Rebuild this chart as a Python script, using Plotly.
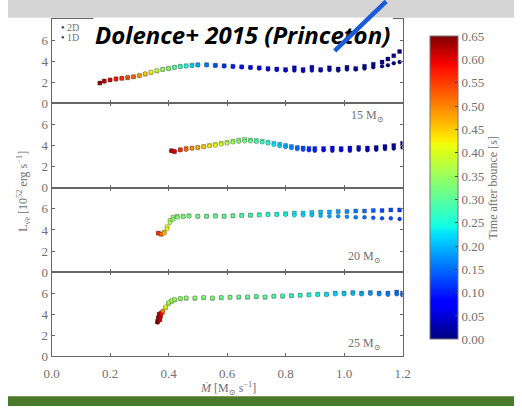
import plotly.graph_objects as go
from plotly.subplots import make_subplots

# ---- data: accretion rate (Msun/s), luminosity (1e52 erg/s), time after bounce (s)
mdot_a = [0.165, 0.18, 0.20, 0.22, 0.24, 0.26, 0.28, 0.30, 0.32, 0.34, 0.36, 0.38,
          0.40, 0.42, 0.44, 0.46, 0.48, 0.50, 0.53, 0.56, 0.59, 0.62, 0.65, 0.68,
          0.71, 0.74, 0.77, 0.80, 0.83, 0.86, 0.89, 0.92, 0.95, 0.98, 1.01, 1.04,
          1.07, 1.10, 1.13, 1.15, 1.17, 1.19]
time_a = [0.64, 0.62, 0.60, 0.58, 0.56, 0.54, 0.52, 0.48, 0.45, 0.42, 0.38, 0.35,
          0.33, 0.30, 0.27, 0.25, 0.22, 0.19, 0.16, 0.13, 0.11, 0.10, 0.09, 0.08,
          0.07, 0.065, 0.06, 0.05, 0.045, 0.04, 0.035, 0.03, 0.025, 0.02, 0.018, 0.015,
          0.012, 0.01, 0.007, 0.005, 0.003, 0.0]
lum2d_a = [1.9, 2.1, 2.2, 2.3, 2.35, 2.4, 2.5, 2.6, 2.75, 2.9, 3.05, 3.2,
           3.3, 3.4, 3.5, 3.55, 3.6, 3.65, 3.65, 3.6, 3.55, 3.5, 3.45, 3.4,
           3.35, 3.3, 3.25, 3.2, 3.35, 3.2, 3.4, 3.2, 3.35, 3.25, 3.4, 3.3,
           3.5, 3.7, 3.9, 4.2, 4.5, 4.9]
lum1d_a = [1.9, 2.05, 2.2, 2.25, 2.35, 2.45, 2.5, 2.65, 2.8, 2.95, 3.1, 3.2,
           3.3, 3.4, 3.45, 3.5, 3.55, 3.6, 3.6, 3.55, 3.5, 3.45, 3.4, 3.35,
           3.3, 3.2, 3.15, 3.1, 3.1, 3.05, 3.1, 3.1, 3.15, 3.1, 3.2, 3.2,
           3.3, 3.4, 3.5, 3.6, 3.8, 3.9]

mdot_b = [0.41, 0.42, 0.44, 0.46, 0.48, 0.50, 0.52, 0.54, 0.56, 0.58, 0.60, 0.62,
          0.64, 0.66, 0.68, 0.70, 0.72, 0.74, 0.76, 0.78, 0.80, 0.82, 0.84, 0.86,
          0.88, 0.90, 0.93, 0.96, 0.99, 1.02, 1.05, 1.08, 1.11, 1.14, 1.17, 1.20]
time_b = [0.62, 0.60, 0.56, 0.52, 0.49, 0.47, 0.45, 0.43, 0.41, 0.39, 0.37, 0.35,
          0.33, 0.32, 0.31, 0.29, 0.27, 0.25, 0.23, 0.21, 0.19, 0.17, 0.15, 0.13,
          0.11, 0.10, 0.08, 0.07, 0.06, 0.05, 0.04, 0.03, 0.02, 0.015, 0.01, 0.0]
lum2d_b = [3.5, 3.4, 3.6, 3.7, 3.75, 3.8, 3.9, 4.0, 4.1, 4.2, 4.3, 4.4,
           4.5, 4.55, 4.5, 4.45, 4.4, 4.3, 4.2, 4.1, 4.0, 3.9, 3.8, 3.75,
           3.7, 3.7, 3.7, 3.75, 3.7, 3.75, 3.8, 3.75, 3.8, 3.9, 4.0, 4.2]
lum1d_b = [3.5, 3.45, 3.55, 3.6, 3.7, 3.8, 3.85, 3.95, 4.0, 4.1, 4.2, 4.3,
           4.35, 4.4, 4.4, 4.35, 4.3, 4.2, 4.05, 3.95, 3.85, 3.75, 3.65, 3.6,
           3.55, 3.5, 3.55, 3.5, 3.55, 3.5, 3.6, 3.55, 3.6, 3.65, 3.7, 3.8]

mdot_c = [0.365, 0.375, 0.385, 0.395, 0.405, 0.415, 0.43, 0.45, 0.47, 0.50, 0.53,
          0.56, 0.59, 0.62, 0.65, 0.68, 0.71, 0.74, 0.77, 0.80, 0.83, 0.86, 0.89,
          0.92, 0.95, 0.98, 1.01, 1.04, 1.07, 1.10, 1.13, 1.16, 1.19]
time_c = [0.56, 0.52, 0.46, 0.40, 0.36, 0.34, 0.33, 0.33, 0.32, 0.32, 0.31,
          0.31, 0.30, 0.30, 0.29, 0.28, 0.27, 0.26, 0.25, 0.24, 0.23, 0.22, 0.21,
          0.20, 0.19, 0.18, 0.17, 0.16, 0.15, 0.14, 0.13, 0.13, 0.12]
lum2d_c = [3.7, 3.6, 3.8, 4.3, 4.9, 5.2, 5.3, 5.3, 5.35, 5.3, 5.3,
           5.35, 5.3, 5.35, 5.4, 5.4, 5.45, 5.5, 5.5, 5.55, 5.6, 5.6, 5.65,
           5.7, 5.7, 5.75, 5.75, 5.8, 5.8, 5.85, 5.85, 5.9, 5.9]
lum1d_c = [3.7, 3.6, 3.7, 4.1, 4.7, 5.0, 5.2, 5.25, 5.3, 5.3, 5.3,
           5.3, 5.3, 5.35, 5.35, 5.4, 5.4, 5.45, 5.45, 5.45, 5.4, 5.4, 5.4,
           5.35, 5.3, 5.3, 5.25, 5.2, 5.2, 5.15, 5.1, 5.1, 5.05]

mdot_d = [0.362, 0.365, 0.368, 0.370, 0.372, 0.375, 0.38, 0.39, 0.40, 0.41, 0.42,
          0.44, 0.46, 0.49, 0.52, 0.55, 0.58, 0.61, 0.64, 0.67, 0.70, 0.73, 0.76,
          0.79, 0.82, 0.85, 0.88, 0.91, 0.94, 0.97, 1.00, 1.03, 1.06, 1.09, 1.12,
          1.15, 1.18, 1.20]
time_d = [0.65, 0.64, 0.63, 0.62, 0.61, 0.59, 0.50, 0.40, 0.36, 0.35, 0.35,
          0.34, 0.34, 0.33, 0.33, 0.33, 0.32, 0.32, 0.31, 0.31, 0.30, 0.30, 0.29,
          0.28, 0.27, 0.26, 0.25, 0.24, 0.23, 0.22, 0.21, 0.20, 0.19, 0.18, 0.17,
          0.16, 0.15, 0.14]
lum2d_d = [3.3, 3.6, 4.0, 3.5, 3.8, 4.1, 4.2, 4.6, 5.0, 5.2, 5.35,
           5.45, 5.5, 5.5, 5.55, 5.5, 5.55, 5.6, 5.6, 5.6, 5.65, 5.6, 5.7,
           5.7, 5.75, 5.8, 5.85, 5.9, 5.9, 6.0, 6.0, 6.05, 6.0, 6.05, 6.0,
           6.0, 6.1, 6.0]
lum1d_d = [3.2, 3.7, 3.9, 3.4, 3.7, 4.0, 4.3, 4.7, 5.1, 5.3, 5.4,
           5.5, 5.55, 5.55, 5.6, 5.55, 5.6, 5.6, 5.65, 5.65, 5.7, 5.65, 5.7,
           5.75, 5.75, 5.8, 5.8, 5.85, 5.85, 5.9, 5.9, 5.95, 5.9, 5.95, 5.9,
           5.85, 5.9, 5.8]

panels = [
    (mdot_a, time_a, lum2d_a, lum1d_a, None),
    (mdot_b, time_b, lum2d_b, lum1d_b, "15 M<sub>\u2299</sub>"),
    (mdot_c, time_c, lum2d_c, lum1d_c, "20 M<sub>\u2299</sub>"),
    (mdot_d, time_d, lum2d_d, lum1d_d, "25 M<sub>\u2299</sub>"),
]
label_pos = [None, (1.08, 6.8), (1.07, 1.4), (1.07, 1.1)]
series_names = ["2D", "1D"]

x_ticks = [0.0, 0.2, 0.4, 0.6, 0.8, 1.0, 1.2]
y_ticks = [0, 2, 4, 6]
cbar_ticks = [0.00, 0.05, 0.10, 0.15, 0.20, 0.25, 0.30, 0.35, 0.40, 0.45, 0.50, 0.55, 0.60, 0.65]

# matplotlib-style "jet"
jet = [
    [0.0, "rgb(0,0,128)"], [0.11, "rgb(0,0,255)"], [0.125, "rgb(0,0,255)"],
    [0.34, "rgb(0,219,255)"], [0.35, "rgb(0,229,247)"], [0.375, "rgb(20,255,226)"],
    [0.64, "rgb(238,255,8)"], [0.66, "rgb(255,234,0)"], [0.89, "rgb(255,18,0)"],
    [0.91, "rgb(245,0,0)"], [1.0, "rgb(128,0,0)"],
]

W, H = 522, 414
SERIF = "Liberation Serif, DejaVu Serif, serif"
GREY = "#707070"
FRAME = "#666666"

def px(x):
    return x / W

def py(y):
    return 1 - y / H

fig = make_subplots(rows=4, cols=1, shared_xaxes=True, vertical_spacing=0)

edge = dict(width=0.5, color="rgba(40,40,40,0.6)")
for i, (md, tt, l2, l1, _) in enumerate(panels):
    fig.add_trace(go.Scatter(x=md, y=l2, mode="markers", name="2D", showlegend=False,
                             marker=dict(symbol="square", size=4, color=tt, line=edge,
                                         coloraxis="coloraxis")), row=i + 1, col=1)
    fig.add_trace(go.Scatter(x=md, y=l1, mode="markers", name="1D", showlegend=False,
                             marker=dict(symbol="circle", size=4, color=tt, line=edge,
                                         coloraxis="coloraxis")), row=i + 1, col=1)

bounds = [19.5, 105, 191.5, 277.5, 363]
for i in range(4):
    sfx = "" if i == 0 else str(i + 1)
    fig.layout["yaxis" + sfx].update(
        domain=[py(bounds[i + 1]), py(bounds[i])], range=[0, 8],
        tickvals=y_ticks, ticks="inside", ticklen=3, mirror="ticks",
        showline=True, linecolor=FRAME, linewidth=1, showgrid=False,
        zeroline=False, tickfont=dict(family=SERIF, size=13, color=GREY),
        tickcolor=FRAME)
    fig.layout["xaxis" + sfx].update(
        domain=[px(45), px(407)], range=[0, 1.2], tickvals=x_ticks,
        ticks="inside", ticklen=3, mirror="ticks", showline=True,
        linecolor=FRAME, linewidth=1, showgrid=False, zeroline=False,
        showticklabels=(i == 3), tickformat=".1f", ticklabelstandoff=5,
        tickfont=dict(family=SERIF, size=13, color=GREY), tickcolor=FRAME)

for i, (_, _, _, _, lab) in enumerate(panels):
    if lab:
        sfx = "" if i == 0 else str(i + 1)
        fig.add_annotation(x=label_pos[i][0], y=label_pos[i][1], xref="x" + sfx,
                           yref="y" + sfx, text=lab, showarrow=False,
                           xanchor="center", yanchor="middle",
                           font=dict(family=SERIF, size=12, color=GREY))

fig.update_layout(
    width=W, height=H, margin=dict(l=0, r=0, t=0, b=0),
    paper_bgcolor="white", plot_bgcolor="white", showlegend=False,
    coloraxis=dict(
        colorscale=jet, cmin=0, cmax=0.65,
        colorbar=dict(
            x=px(435), xanchor="left", xpad=0, ypad=0, y=py(191.5), yanchor="middle",
            len=303, lenmode="pixels", thickness=28, outlinewidth=1,
            outlinecolor="#777", tickvals=cbar_ticks, tickformat=".2f",
            ticks="inside", ticklen=3, tickcolor="#444",
            tickfont=dict(family=SERIF, size=13, color=GREY),
            title=dict(text="Time after bounce [s]", side="right",
                       font=dict(family=SERIF, size=12, color=GREY)),
        ),
    ),
    shapes=[
        dict(type="rect", xref="paper", yref="paper", x0=0, x1=1, y0=py(18), y1=1,
             fillcolor="#d5d5d5", line=dict(width=0), layer="above"),
        dict(type="rect", xref="paper", yref="paper", x0=0, x1=1, y0=0, y1=py(404),
             fillcolor="rgb(76,122,44)", line=dict(width=0), layer="above"),
        dict(type="rect", xref="paper", yref="paper", x0=px(88), x1=px(397),
             y0=py(51), y1=py(18), fillcolor="white", line=dict(width=0),
             layer="above"),
    ],
)

# series key in the top panel
for k, (name, ypix) in enumerate(zip(series_names, [28, 38])):
    fig.add_annotation(xref="paper", yref="paper", x=px(53), y=py(ypix),
                       xanchor="left", yanchor="middle", showarrow=False,
                       text="<span style='color:#2b2b8c'>\u2022</span> " + name,
                       font=dict(family=SERIF, size=10, color=GREY))

# axis titles
fig.add_annotation(xref="paper", yref="paper", x=px(16), y=py(195), textangle=-90,
                   xanchor="center", yanchor="middle",
                   text="L<sub>\u03bd\u0304e</sub> [10<sup>52</sup> erg s<sup>\u22121</sup>]",
                   showarrow=False, font=dict(family=SERIF, size=12, color=GREY))
fig.add_annotation(xref="paper", yref="paper", x=px(227), y=py(396),
                   xanchor="center", yanchor="middle",
                   text="<i>\u1e40</i> [M<sub>\u2299</sub> s<sup>\u22121</sup>]",
                   showarrow=False, font=dict(family=SERIF, size=12, color=GREY))

# heading
fig.add_annotation(xref="paper", yref="paper", x=px(242), y=py(35),
                   xanchor="center", yanchor="middle",
                   text="<b><i>Dolence+ 2015 (Princeton)</i></b>", showarrow=False,
                   font=dict(family="Open Sans", size=24, color="black"))
# pointer line
fig.add_annotation(xref="paper", yref="paper", x=px(337), y=py(52), ax=53, ay=-53,
                   text="", showarrow=True, arrowhead=0, arrowwidth=4.5,
                   arrowcolor="#1a5cd8", standoff=0)

fig.write_html("out.html")
